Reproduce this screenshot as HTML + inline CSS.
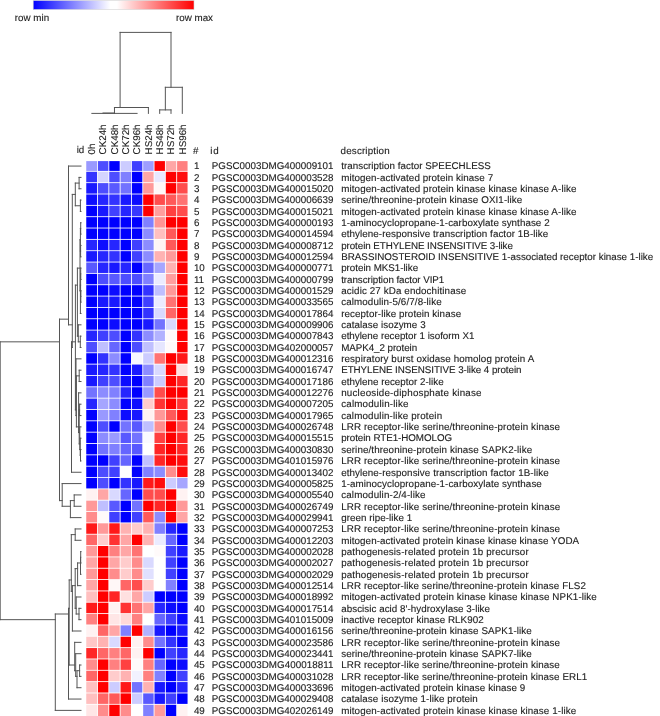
<!DOCTYPE html><html><head><meta charset="utf-8"><style>html,body{margin:0;padding:0;background:#fff;}svg{display:block;will-change:transform;}text{font-family:"Liberation Sans", sans-serif;text-rendering:geometricPrecision;stroke:#222;stroke-width:0.12px;}</style></head><body>
<svg width="660" height="716" viewBox="0 0 660 716">
<rect width="660" height="716" fill="#fff"/>
<defs><linearGradient id="cb" x1="0" x2="1" y1="0" y2="0"><stop offset="0" stop-color="#0000ff"/><stop offset="0.48" stop-color="#ffffff"/><stop offset="0.52" stop-color="#ffffff"/><stop offset="1" stop-color="#ff0000"/></linearGradient></defs>
<rect x="33.2" y="0.5" width="160.8" height="9.0" fill="url(#cb)" stroke="#d4d4d4" stroke-width="0.6"/>
<text x="14.8" y="20.9" font-size="9.8" fill="#222">row min</text>
<text x="176.0" y="20.9" font-size="9.8" fill="#222">row max</text>
<g><rect x="86.25" y="161.10" width="10.83" height="9.81" fill="#9999ff"/><rect x="97.94" y="161.10" width="10.45" height="9.81" fill="#4d4dff"/><rect x="109.25" y="161.10" width="10.45" height="9.81" fill="#0000ff"/><rect x="120.56" y="161.10" width="10.45" height="9.81" fill="#ccccff"/><rect x="131.87" y="161.10" width="10.45" height="9.81" fill="#4040ff"/><rect x="143.18" y="161.10" width="10.45" height="9.81" fill="#9e9eff"/><rect x="154.49" y="161.10" width="10.45" height="9.81" fill="#ff0000"/><rect x="165.80" y="161.10" width="10.45" height="9.81" fill="#ffa6a6"/><rect x="177.11" y="161.10" width="10.45" height="9.81" fill="#ff8080"/><rect x="86.25" y="171.77" width="10.83" height="10.48" fill="#3333ff"/><rect x="97.94" y="171.77" width="10.45" height="10.48" fill="#d4d4ff"/><rect x="109.25" y="171.77" width="10.45" height="10.48" fill="#4d4dff"/><rect x="120.56" y="171.77" width="10.45" height="10.48" fill="#8080ff"/><rect x="131.87" y="171.77" width="10.45" height="10.48" fill="#0000ff"/><rect x="143.18" y="171.77" width="10.45" height="10.48" fill="#ffa6a6"/><rect x="154.49" y="171.77" width="10.45" height="10.48" fill="#e8e8ff"/><rect x="165.80" y="171.77" width="10.45" height="10.48" fill="#ff0000"/><rect x="177.11" y="171.77" width="10.45" height="10.48" fill="#ff0d0d"/><rect x="86.25" y="183.11" width="10.83" height="10.48" fill="#1919ff"/><rect x="97.94" y="183.11" width="10.45" height="10.48" fill="#4d4dff"/><rect x="109.25" y="183.11" width="10.45" height="10.48" fill="#5959ff"/><rect x="120.56" y="183.11" width="10.45" height="10.48" fill="#7373ff"/><rect x="131.87" y="183.11" width="10.45" height="10.48" fill="#0000ff"/><rect x="143.18" y="183.11" width="10.45" height="10.48" fill="#ff9999"/><rect x="154.49" y="183.11" width="10.45" height="10.48" fill="#fff7f7"/><rect x="165.80" y="183.11" width="10.45" height="10.48" fill="#ff0000"/><rect x="177.11" y="183.11" width="10.45" height="10.48" fill="#ff4d4d"/><rect x="86.25" y="194.45" width="10.83" height="10.48" fill="#0d0dff"/><rect x="97.94" y="194.45" width="10.45" height="10.48" fill="#2626ff"/><rect x="109.25" y="194.45" width="10.45" height="10.48" fill="#3333ff"/><rect x="120.56" y="194.45" width="10.45" height="10.48" fill="#1919ff"/><rect x="131.87" y="194.45" width="10.45" height="10.48" fill="#0d0dff"/><rect x="143.18" y="194.45" width="10.45" height="10.48" fill="#ff0000"/><rect x="154.49" y="194.45" width="10.45" height="10.48" fill="#ff4d4d"/><rect x="165.80" y="194.45" width="10.45" height="10.48" fill="#ff5959"/><rect x="177.11" y="194.45" width="10.45" height="10.48" fill="#ff7373"/><rect x="86.25" y="205.79" width="10.83" height="10.48" fill="#0000ff"/><rect x="97.94" y="205.79" width="10.45" height="10.48" fill="#1919ff"/><rect x="109.25" y="205.79" width="10.45" height="10.48" fill="#4040ff"/><rect x="120.56" y="205.79" width="10.45" height="10.48" fill="#2626ff"/><rect x="131.87" y="205.79" width="10.45" height="10.48" fill="#3838ff"/><rect x="143.18" y="205.79" width="10.45" height="10.48" fill="#ff0000"/><rect x="154.49" y="205.79" width="10.45" height="10.48" fill="#ff9e9e"/><rect x="165.80" y="205.79" width="10.45" height="10.48" fill="#ff4040"/><rect x="177.11" y="205.79" width="10.45" height="10.48" fill="#ff4d4d"/><rect x="86.25" y="217.13" width="10.83" height="10.48" fill="#0000ff"/><rect x="97.94" y="217.13" width="10.45" height="10.48" fill="#0000ff"/><rect x="109.25" y="217.13" width="10.45" height="10.48" fill="#0000ff"/><rect x="120.56" y="217.13" width="10.45" height="10.48" fill="#0000ff"/><rect x="131.87" y="217.13" width="10.45" height="10.48" fill="#0000ff"/><rect x="143.18" y="217.13" width="10.45" height="10.48" fill="#8080ff"/><rect x="154.49" y="217.13" width="10.45" height="10.48" fill="#ff9494"/><rect x="165.80" y="217.13" width="10.45" height="10.48" fill="#ff0000"/><rect x="177.11" y="217.13" width="10.45" height="10.48" fill="#ff0000"/><rect x="86.25" y="228.47" width="10.83" height="10.48" fill="#0000ff"/><rect x="97.94" y="228.47" width="10.45" height="10.48" fill="#0000ff"/><rect x="109.25" y="228.47" width="10.45" height="10.48" fill="#0000ff"/><rect x="120.56" y="228.47" width="10.45" height="10.48" fill="#0000ff"/><rect x="131.87" y="228.47" width="10.45" height="10.48" fill="#0000ff"/><rect x="143.18" y="228.47" width="10.45" height="10.48" fill="#8c8cff"/><rect x="154.49" y="228.47" width="10.45" height="10.48" fill="#ffbfbf"/><rect x="165.80" y="228.47" width="10.45" height="10.48" fill="#ff5959"/><rect x="177.11" y="228.47" width="10.45" height="10.48" fill="#ff0000"/><rect x="86.25" y="239.81" width="10.83" height="10.48" fill="#2626ff"/><rect x="97.94" y="239.81" width="10.45" height="10.48" fill="#0d0dff"/><rect x="109.25" y="239.81" width="10.45" height="10.48" fill="#2626ff"/><rect x="120.56" y="239.81" width="10.45" height="10.48" fill="#0000ff"/><rect x="131.87" y="239.81" width="10.45" height="10.48" fill="#4040ff"/><rect x="143.18" y="239.81" width="10.45" height="10.48" fill="#8c8cff"/><rect x="154.49" y="239.81" width="10.45" height="10.48" fill="#fff5f5"/><rect x="165.80" y="239.81" width="10.45" height="10.48" fill="#ff5959"/><rect x="177.11" y="239.81" width="10.45" height="10.48" fill="#ff0000"/><rect x="86.25" y="251.15" width="10.83" height="10.48" fill="#1919ff"/><rect x="97.94" y="251.15" width="10.45" height="10.48" fill="#2626ff"/><rect x="109.25" y="251.15" width="10.45" height="10.48" fill="#3333ff"/><rect x="120.56" y="251.15" width="10.45" height="10.48" fill="#0000ff"/><rect x="131.87" y="251.15" width="10.45" height="10.48" fill="#4040ff"/><rect x="143.18" y="251.15" width="10.45" height="10.48" fill="#8c8cff"/><rect x="154.49" y="251.15" width="10.45" height="10.48" fill="#ffb2b2"/><rect x="165.80" y="251.15" width="10.45" height="10.48" fill="#ff9999"/><rect x="177.11" y="251.15" width="10.45" height="10.48" fill="#ff0000"/><rect x="86.25" y="262.49" width="10.83" height="10.48" fill="#5959ff"/><rect x="97.94" y="262.49" width="10.45" height="10.48" fill="#2626ff"/><rect x="109.25" y="262.49" width="10.45" height="10.48" fill="#1919ff"/><rect x="120.56" y="262.49" width="10.45" height="10.48" fill="#2626ff"/><rect x="131.87" y="262.49" width="10.45" height="10.48" fill="#0000ff"/><rect x="143.18" y="262.49" width="10.45" height="10.48" fill="#6666ff"/><rect x="154.49" y="262.49" width="10.45" height="10.48" fill="#a6a6ff"/><rect x="165.80" y="262.49" width="10.45" height="10.48" fill="#ffb2b2"/><rect x="177.11" y="262.49" width="10.45" height="10.48" fill="#ff0000"/><rect x="86.25" y="273.83" width="10.83" height="10.48" fill="#0000ff"/><rect x="97.94" y="273.83" width="10.45" height="10.48" fill="#4d4dff"/><rect x="109.25" y="273.83" width="10.45" height="10.48" fill="#5959ff"/><rect x="120.56" y="273.83" width="10.45" height="10.48" fill="#4d4dff"/><rect x="131.87" y="273.83" width="10.45" height="10.48" fill="#4d4dff"/><rect x="143.18" y="273.83" width="10.45" height="10.48" fill="#8080ff"/><rect x="154.49" y="273.83" width="10.45" height="10.48" fill="#ebebff"/><rect x="165.80" y="273.83" width="10.45" height="10.48" fill="#ff9e9e"/><rect x="177.11" y="273.83" width="10.45" height="10.48" fill="#ff0000"/><rect x="86.25" y="285.17" width="10.83" height="10.48" fill="#0000ff"/><rect x="97.94" y="285.17" width="10.45" height="10.48" fill="#0000ff"/><rect x="109.25" y="285.17" width="10.45" height="10.48" fill="#0d0dff"/><rect x="120.56" y="285.17" width="10.45" height="10.48" fill="#0000ff"/><rect x="131.87" y="285.17" width="10.45" height="10.48" fill="#0000ff"/><rect x="143.18" y="285.17" width="10.45" height="10.48" fill="#3333ff"/><rect x="154.49" y="285.17" width="10.45" height="10.48" fill="#bfbfff"/><rect x="165.80" y="285.17" width="10.45" height="10.48" fill="#ff9999"/><rect x="177.11" y="285.17" width="10.45" height="10.48" fill="#ff0000"/><rect x="86.25" y="296.51" width="10.83" height="10.48" fill="#0000ff"/><rect x="97.94" y="296.51" width="10.45" height="10.48" fill="#1919ff"/><rect x="109.25" y="296.51" width="10.45" height="10.48" fill="#1919ff"/><rect x="120.56" y="296.51" width="10.45" height="10.48" fill="#0000ff"/><rect x="131.87" y="296.51" width="10.45" height="10.48" fill="#0000ff"/><rect x="143.18" y="296.51" width="10.45" height="10.48" fill="#4040ff"/><rect x="154.49" y="296.51" width="10.45" height="10.48" fill="#ebebff"/><rect x="165.80" y="296.51" width="10.45" height="10.48" fill="#ff7373"/><rect x="177.11" y="296.51" width="10.45" height="10.48" fill="#ff0000"/><rect x="86.25" y="307.85" width="10.83" height="10.48" fill="#0000ff"/><rect x="97.94" y="307.85" width="10.45" height="10.48" fill="#0000ff"/><rect x="109.25" y="307.85" width="10.45" height="10.48" fill="#0000ff"/><rect x="120.56" y="307.85" width="10.45" height="10.48" fill="#0000ff"/><rect x="131.87" y="307.85" width="10.45" height="10.48" fill="#0000ff"/><rect x="143.18" y="307.85" width="10.45" height="10.48" fill="#3333ff"/><rect x="154.49" y="307.85" width="10.45" height="10.48" fill="#d9d9ff"/><rect x="165.80" y="307.85" width="10.45" height="10.48" fill="#ff6666"/><rect x="177.11" y="307.85" width="10.45" height="10.48" fill="#ff0000"/><rect x="86.25" y="319.19" width="10.83" height="10.48" fill="#0000ff"/><rect x="97.94" y="319.19" width="10.45" height="10.48" fill="#0000ff"/><rect x="109.25" y="319.19" width="10.45" height="10.48" fill="#0d0dff"/><rect x="120.56" y="319.19" width="10.45" height="10.48" fill="#0000ff"/><rect x="131.87" y="319.19" width="10.45" height="10.48" fill="#0000ff"/><rect x="143.18" y="319.19" width="10.45" height="10.48" fill="#1919ff"/><rect x="154.49" y="319.19" width="10.45" height="10.48" fill="#7373ff"/><rect x="165.80" y="319.19" width="10.45" height="10.48" fill="#d9d9ff"/><rect x="177.11" y="319.19" width="10.45" height="10.48" fill="#ff0000"/><rect x="86.25" y="330.53" width="10.83" height="10.48" fill="#2626ff"/><rect x="97.94" y="330.53" width="10.45" height="10.48" fill="#4040ff"/><rect x="109.25" y="330.53" width="10.45" height="10.48" fill="#4d4dff"/><rect x="120.56" y="330.53" width="10.45" height="10.48" fill="#0000ff"/><rect x="131.87" y="330.53" width="10.45" height="10.48" fill="#3333ff"/><rect x="143.18" y="330.53" width="10.45" height="10.48" fill="#8c8cff"/><rect x="154.49" y="330.53" width="10.45" height="10.48" fill="#b2b2ff"/><rect x="165.80" y="330.53" width="10.45" height="10.48" fill="#fffafa"/><rect x="177.11" y="330.53" width="10.45" height="10.48" fill="#ff0000"/><rect x="86.25" y="341.87" width="10.83" height="10.48" fill="#4d4dff"/><rect x="97.94" y="341.87" width="10.45" height="10.48" fill="#bfbfff"/><rect x="109.25" y="341.87" width="10.45" height="10.48" fill="#6666ff"/><rect x="120.56" y="341.87" width="10.45" height="10.48" fill="#0000ff"/><rect x="131.87" y="341.87" width="10.45" height="10.48" fill="#4d4dff"/><rect x="143.18" y="341.87" width="10.45" height="10.48" fill="#bfbfff"/><rect x="154.49" y="341.87" width="10.45" height="10.48" fill="#e6e6ff"/><rect x="165.80" y="341.87" width="10.45" height="10.48" fill="#fffafa"/><rect x="177.11" y="341.87" width="10.45" height="10.48" fill="#ff0000"/><rect x="86.25" y="353.21" width="10.83" height="10.48" fill="#0000ff"/><rect x="97.94" y="353.21" width="10.45" height="10.48" fill="#3333ff"/><rect x="109.25" y="353.21" width="10.45" height="10.48" fill="#8c8cff"/><rect x="120.56" y="353.21" width="10.45" height="10.48" fill="#0000ff"/><rect x="131.87" y="353.21" width="10.45" height="10.48" fill="#f7f7ff"/><rect x="143.18" y="353.21" width="10.45" height="10.48" fill="#ccccff"/><rect x="154.49" y="353.21" width="10.45" height="10.48" fill="#ff7373"/><rect x="165.80" y="353.21" width="10.45" height="10.48" fill="#ff0000"/><rect x="177.11" y="353.21" width="10.45" height="10.48" fill="#ff1919"/><rect x="86.25" y="364.55" width="10.83" height="10.48" fill="#1919ff"/><rect x="97.94" y="364.55" width="10.45" height="10.48" fill="#2626ff"/><rect x="109.25" y="364.55" width="10.45" height="10.48" fill="#3333ff"/><rect x="120.56" y="364.55" width="10.45" height="10.48" fill="#0000ff"/><rect x="131.87" y="364.55" width="10.45" height="10.48" fill="#1919ff"/><rect x="143.18" y="364.55" width="10.45" height="10.48" fill="#8c8cff"/><rect x="154.49" y="364.55" width="10.45" height="10.48" fill="#d9d9ff"/><rect x="165.80" y="364.55" width="10.45" height="10.48" fill="#ff0000"/><rect x="177.11" y="364.55" width="10.45" height="10.48" fill="#ffe0e0"/><rect x="86.25" y="375.89" width="10.83" height="10.48" fill="#1919ff"/><rect x="97.94" y="375.89" width="10.45" height="10.48" fill="#4040ff"/><rect x="109.25" y="375.89" width="10.45" height="10.48" fill="#4d4dff"/><rect x="120.56" y="375.89" width="10.45" height="10.48" fill="#0d0dff"/><rect x="131.87" y="375.89" width="10.45" height="10.48" fill="#0000ff"/><rect x="143.18" y="375.89" width="10.45" height="10.48" fill="#8080ff"/><rect x="154.49" y="375.89" width="10.45" height="10.48" fill="#ccccff"/><rect x="165.80" y="375.89" width="10.45" height="10.48" fill="#ff0000"/><rect x="177.11" y="375.89" width="10.45" height="10.48" fill="#ff2626"/><rect x="86.25" y="387.23" width="10.83" height="10.48" fill="#7373ff"/><rect x="97.94" y="387.23" width="10.45" height="10.48" fill="#8c8cff"/><rect x="109.25" y="387.23" width="10.45" height="10.48" fill="#8080ff"/><rect x="120.56" y="387.23" width="10.45" height="10.48" fill="#2626ff"/><rect x="131.87" y="387.23" width="10.45" height="10.48" fill="#0000ff"/><rect x="143.18" y="387.23" width="10.45" height="10.48" fill="#9999ff"/><rect x="154.49" y="387.23" width="10.45" height="10.48" fill="#ff4d4d"/><rect x="165.80" y="387.23" width="10.45" height="10.48" fill="#ff0000"/><rect x="177.11" y="387.23" width="10.45" height="10.48" fill="#ff0000"/><rect x="86.25" y="398.57" width="10.83" height="10.48" fill="#2626ff"/><rect x="97.94" y="398.57" width="10.45" height="10.48" fill="#a6a6ff"/><rect x="109.25" y="398.57" width="10.45" height="10.48" fill="#8c8cff"/><rect x="120.56" y="398.57" width="10.45" height="10.48" fill="#0000ff"/><rect x="131.87" y="398.57" width="10.45" height="10.48" fill="#0d0dff"/><rect x="143.18" y="398.57" width="10.45" height="10.48" fill="#ffcccc"/><rect x="154.49" y="398.57" width="10.45" height="10.48" fill="#ff3333"/><rect x="165.80" y="398.57" width="10.45" height="10.48" fill="#ff0000"/><rect x="177.11" y="398.57" width="10.45" height="10.48" fill="#ff3333"/><rect x="86.25" y="409.91" width="10.83" height="10.48" fill="#0000ff"/><rect x="97.94" y="409.91" width="10.45" height="10.48" fill="#9999ff"/><rect x="109.25" y="409.91" width="10.45" height="10.48" fill="#8080ff"/><rect x="120.56" y="409.91" width="10.45" height="10.48" fill="#0d0dff"/><rect x="131.87" y="409.91" width="10.45" height="10.48" fill="#1919ff"/><rect x="143.18" y="409.91" width="10.45" height="10.48" fill="#fff2f2"/><rect x="154.49" y="409.91" width="10.45" height="10.48" fill="#ff9999"/><rect x="165.80" y="409.91" width="10.45" height="10.48" fill="#ff5959"/><rect x="177.11" y="409.91" width="10.45" height="10.48" fill="#ff0d0d"/><rect x="86.25" y="421.25" width="10.83" height="10.48" fill="#0000ff"/><rect x="97.94" y="421.25" width="10.45" height="10.48" fill="#4d4dff"/><rect x="109.25" y="421.25" width="10.45" height="10.48" fill="#0000ff"/><rect x="120.56" y="421.25" width="10.45" height="10.48" fill="#7373ff"/><rect x="131.87" y="421.25" width="10.45" height="10.48" fill="#5959ff"/><rect x="143.18" y="421.25" width="10.45" height="10.48" fill="#bfbfff"/><rect x="154.49" y="421.25" width="10.45" height="10.48" fill="#ff8c8c"/><rect x="165.80" y="421.25" width="10.45" height="10.48" fill="#ff0000"/><rect x="177.11" y="421.25" width="10.45" height="10.48" fill="#ff4d4d"/><rect x="86.25" y="432.59" width="10.83" height="10.48" fill="#0000ff"/><rect x="97.94" y="432.59" width="10.45" height="10.48" fill="#8c8cff"/><rect x="109.25" y="432.59" width="10.45" height="10.48" fill="#9999ff"/><rect x="120.56" y="432.59" width="10.45" height="10.48" fill="#5959ff"/><rect x="131.87" y="432.59" width="10.45" height="10.48" fill="#7373ff"/><rect x="143.18" y="432.59" width="10.45" height="10.48" fill="#fafaff"/><rect x="154.49" y="432.59" width="10.45" height="10.48" fill="#ff4040"/><rect x="165.80" y="432.59" width="10.45" height="10.48" fill="#ff0000"/><rect x="177.11" y="432.59" width="10.45" height="10.48" fill="#ff2626"/><rect x="86.25" y="443.93" width="10.83" height="10.48" fill="#0000ff"/><rect x="97.94" y="443.93" width="10.45" height="10.48" fill="#7373ff"/><rect x="109.25" y="443.93" width="10.45" height="10.48" fill="#8080ff"/><rect x="120.56" y="443.93" width="10.45" height="10.48" fill="#6666ff"/><rect x="131.87" y="443.93" width="10.45" height="10.48" fill="#5959ff"/><rect x="143.18" y="443.93" width="10.45" height="10.48" fill="#ffffff"/><rect x="154.49" y="443.93" width="10.45" height="10.48" fill="#ff2626"/><rect x="165.80" y="443.93" width="10.45" height="10.48" fill="#ff0000"/><rect x="177.11" y="443.93" width="10.45" height="10.48" fill="#ff2626"/><rect x="86.25" y="455.27" width="10.83" height="10.48" fill="#0000ff"/><rect x="97.94" y="455.27" width="10.45" height="10.48" fill="#0000ff"/><rect x="109.25" y="455.27" width="10.45" height="10.48" fill="#4040ff"/><rect x="120.56" y="455.27" width="10.45" height="10.48" fill="#6666ff"/><rect x="131.87" y="455.27" width="10.45" height="10.48" fill="#0000ff"/><rect x="143.18" y="455.27" width="10.45" height="10.48" fill="#bfbfff"/><rect x="154.49" y="455.27" width="10.45" height="10.48" fill="#ff2626"/><rect x="165.80" y="455.27" width="10.45" height="10.48" fill="#ff0000"/><rect x="177.11" y="455.27" width="10.45" height="10.48" fill="#ff0d0d"/><rect x="86.25" y="466.61" width="10.83" height="10.48" fill="#0000ff"/><rect x="97.94" y="466.61" width="10.45" height="10.48" fill="#4d4dff"/><rect x="109.25" y="466.61" width="10.45" height="10.48" fill="#4040ff"/><rect x="120.56" y="466.61" width="10.45" height="10.48" fill="#ffffff"/><rect x="131.87" y="466.61" width="10.45" height="10.48" fill="#0000ff"/><rect x="143.18" y="466.61" width="10.45" height="10.48" fill="#8080ff"/><rect x="154.49" y="466.61" width="10.45" height="10.48" fill="#8c8cff"/><rect x="165.80" y="466.61" width="10.45" height="10.48" fill="#ff8c8c"/><rect x="177.11" y="466.61" width="10.45" height="10.48" fill="#ff0d0d"/><rect x="86.25" y="477.95" width="10.83" height="10.48" fill="#0000ff"/><rect x="97.94" y="477.95" width="10.45" height="10.48" fill="#4d4dff"/><rect x="109.25" y="477.95" width="10.45" height="10.48" fill="#0000ff"/><rect x="120.56" y="477.95" width="10.45" height="10.48" fill="#3333ff"/><rect x="131.87" y="477.95" width="10.45" height="10.48" fill="#1919ff"/><rect x="143.18" y="477.95" width="10.45" height="10.48" fill="#ff1919"/><rect x="154.49" y="477.95" width="10.45" height="10.48" fill="#ff0d0d"/><rect x="165.80" y="477.95" width="10.45" height="10.48" fill="#ccccff"/><rect x="177.11" y="477.95" width="10.45" height="10.48" fill="#a6a6ff"/><rect x="86.25" y="489.29" width="10.83" height="10.48" fill="#fff2f2"/><rect x="97.94" y="489.29" width="10.45" height="10.48" fill="#ffa6a6"/><rect x="109.25" y="489.29" width="10.45" height="10.48" fill="#d9d9ff"/><rect x="120.56" y="489.29" width="10.45" height="10.48" fill="#6666ff"/><rect x="131.87" y="489.29" width="10.45" height="10.48" fill="#0000ff"/><rect x="143.18" y="489.29" width="10.45" height="10.48" fill="#ff4d4d"/><rect x="154.49" y="489.29" width="10.45" height="10.48" fill="#ff4d4d"/><rect x="165.80" y="489.29" width="10.45" height="10.48" fill="#ff0000"/><rect x="177.11" y="489.29" width="10.45" height="10.48" fill="#fff2f2"/><rect x="86.25" y="500.63" width="10.83" height="10.48" fill="#ff9999"/><rect x="97.94" y="500.63" width="10.45" height="10.48" fill="#bfbfff"/><rect x="109.25" y="500.63" width="10.45" height="10.48" fill="#5959ff"/><rect x="120.56" y="500.63" width="10.45" height="10.48" fill="#0000ff"/><rect x="131.87" y="500.63" width="10.45" height="10.48" fill="#7373ff"/><rect x="143.18" y="500.63" width="10.45" height="10.48" fill="#ff0000"/><rect x="154.49" y="500.63" width="10.45" height="10.48" fill="#ff2626"/><rect x="165.80" y="500.63" width="10.45" height="10.48" fill="#ff0000"/><rect x="177.11" y="500.63" width="10.45" height="10.48" fill="#ff9999"/><rect x="86.25" y="511.97" width="10.83" height="10.48" fill="#ff8c8c"/><rect x="97.94" y="511.97" width="10.45" height="10.48" fill="#fffafa"/><rect x="109.25" y="511.97" width="10.45" height="10.48" fill="#4040ff"/><rect x="120.56" y="511.97" width="10.45" height="10.48" fill="#0000ff"/><rect x="131.87" y="511.97" width="10.45" height="10.48" fill="#4040ff"/><rect x="143.18" y="511.97" width="10.45" height="10.48" fill="#ff5959"/><rect x="154.49" y="511.97" width="10.45" height="10.48" fill="#8c8cff"/><rect x="165.80" y="511.97" width="10.45" height="10.48" fill="#ff0000"/><rect x="177.11" y="511.97" width="10.45" height="10.48" fill="#ffa6a6"/><rect x="86.25" y="523.31" width="10.83" height="10.48" fill="#ff1919"/><rect x="97.94" y="523.31" width="10.45" height="10.48" fill="#ff9999"/><rect x="109.25" y="523.31" width="10.45" height="10.48" fill="#ff1919"/><rect x="120.56" y="523.31" width="10.45" height="10.48" fill="#ffb2b2"/><rect x="131.87" y="523.31" width="10.45" height="10.48" fill="#ffcccc"/><rect x="143.18" y="523.31" width="10.45" height="10.48" fill="#ffb2b2"/><rect x="154.49" y="523.31" width="10.45" height="10.48" fill="#8080ff"/><rect x="165.80" y="523.31" width="10.45" height="10.48" fill="#2626ff"/><rect x="177.11" y="523.31" width="10.45" height="10.48" fill="#0000ff"/><rect x="86.25" y="534.65" width="10.83" height="10.48" fill="#ff6666"/><rect x="97.94" y="534.65" width="10.45" height="10.48" fill="#ffcccc"/><rect x="109.25" y="534.65" width="10.45" height="10.48" fill="#ff3333"/><rect x="120.56" y="534.65" width="10.45" height="10.48" fill="#ffa6a6"/><rect x="131.87" y="534.65" width="10.45" height="10.48" fill="#ff0000"/><rect x="143.18" y="534.65" width="10.45" height="10.48" fill="#ffb2b2"/><rect x="154.49" y="534.65" width="10.45" height="10.48" fill="#ebebff"/><rect x="165.80" y="534.65" width="10.45" height="10.48" fill="#6666ff"/><rect x="177.11" y="534.65" width="10.45" height="10.48" fill="#0000ff"/><rect x="86.25" y="545.99" width="10.83" height="10.48" fill="#ff9999"/><rect x="97.94" y="545.99" width="10.45" height="10.48" fill="#ff0000"/><rect x="109.25" y="545.99" width="10.45" height="10.48" fill="#ff8080"/><rect x="120.56" y="545.99" width="10.45" height="10.48" fill="#ffa6a6"/><rect x="131.87" y="545.99" width="10.45" height="10.48" fill="#ff7373"/><rect x="143.18" y="545.99" width="10.45" height="10.48" fill="#ffffff"/><rect x="154.49" y="545.99" width="10.45" height="10.48" fill="#fffafa"/><rect x="165.80" y="545.99" width="10.45" height="10.48" fill="#4040ff"/><rect x="177.11" y="545.99" width="10.45" height="10.48" fill="#1919ff"/><rect x="86.25" y="557.33" width="10.83" height="10.48" fill="#ffa6a6"/><rect x="97.94" y="557.33" width="10.45" height="10.48" fill="#ff0000"/><rect x="109.25" y="557.33" width="10.45" height="10.48" fill="#ffa6a6"/><rect x="120.56" y="557.33" width="10.45" height="10.48" fill="#ffcccc"/><rect x="131.87" y="557.33" width="10.45" height="10.48" fill="#ff8c8c"/><rect x="143.18" y="557.33" width="10.45" height="10.48" fill="#d9d9ff"/><rect x="154.49" y="557.33" width="10.45" height="10.48" fill="#ffffff"/><rect x="165.80" y="557.33" width="10.45" height="10.48" fill="#4040ff"/><rect x="177.11" y="557.33" width="10.45" height="10.48" fill="#0000ff"/><rect x="86.25" y="568.67" width="10.83" height="10.48" fill="#ff9999"/><rect x="97.94" y="568.67" width="10.45" height="10.48" fill="#ff0000"/><rect x="109.25" y="568.67" width="10.45" height="10.48" fill="#ff8c8c"/><rect x="120.56" y="568.67" width="10.45" height="10.48" fill="#ffcccc"/><rect x="131.87" y="568.67" width="10.45" height="10.48" fill="#ff8c8c"/><rect x="143.18" y="568.67" width="10.45" height="10.48" fill="#e0e0ff"/><rect x="154.49" y="568.67" width="10.45" height="10.48" fill="#ffffff"/><rect x="165.80" y="568.67" width="10.45" height="10.48" fill="#4040ff"/><rect x="177.11" y="568.67" width="10.45" height="10.48" fill="#0000ff"/><rect x="86.25" y="580.01" width="10.83" height="10.48" fill="#ffa6a6"/><rect x="97.94" y="580.01" width="10.45" height="10.48" fill="#ff0000"/><rect x="109.25" y="580.01" width="10.45" height="10.48" fill="#fff7f7"/><rect x="120.56" y="580.01" width="10.45" height="10.48" fill="#ff6666"/><rect x="131.87" y="580.01" width="10.45" height="10.48" fill="#ff4d4d"/><rect x="143.18" y="580.01" width="10.45" height="10.48" fill="#ffcccc"/><rect x="154.49" y="580.01" width="10.45" height="10.48" fill="#ffffff"/><rect x="165.80" y="580.01" width="10.45" height="10.48" fill="#8080ff"/><rect x="177.11" y="580.01" width="10.45" height="10.48" fill="#0000ff"/><rect x="86.25" y="591.35" width="10.83" height="10.48" fill="#ffbfbf"/><rect x="97.94" y="591.35" width="10.45" height="10.48" fill="#ff0000"/><rect x="109.25" y="591.35" width="10.45" height="10.48" fill="#ff2626"/><rect x="120.56" y="591.35" width="10.45" height="10.48" fill="#ffe0e0"/><rect x="131.87" y="591.35" width="10.45" height="10.48" fill="#ffa6a6"/><rect x="143.18" y="591.35" width="10.45" height="10.48" fill="#ccccff"/><rect x="154.49" y="591.35" width="10.45" height="10.48" fill="#0000ff"/><rect x="165.80" y="591.35" width="10.45" height="10.48" fill="#0000ff"/><rect x="177.11" y="591.35" width="10.45" height="10.48" fill="#0000ff"/><rect x="86.25" y="602.69" width="10.83" height="10.48" fill="#ff1919"/><rect x="97.94" y="602.69" width="10.45" height="10.48" fill="#ff0000"/><rect x="109.25" y="602.69" width="10.45" height="10.48" fill="#fff2f2"/><rect x="120.56" y="602.69" width="10.45" height="10.48" fill="#ff3333"/><rect x="131.87" y="602.69" width="10.45" height="10.48" fill="#ff7373"/><rect x="143.18" y="602.69" width="10.45" height="10.48" fill="#ffa6a6"/><rect x="154.49" y="602.69" width="10.45" height="10.48" fill="#2626ff"/><rect x="165.80" y="602.69" width="10.45" height="10.48" fill="#0d0dff"/><rect x="177.11" y="602.69" width="10.45" height="10.48" fill="#0000ff"/><rect x="86.25" y="614.03" width="10.83" height="10.48" fill="#ff8080"/><rect x="97.94" y="614.03" width="10.45" height="10.48" fill="#ff0000"/><rect x="109.25" y="614.03" width="10.45" height="10.48" fill="#ffe6e6"/><rect x="120.56" y="614.03" width="10.45" height="10.48" fill="#ffd9d9"/><rect x="131.87" y="614.03" width="10.45" height="10.48" fill="#ff8080"/><rect x="143.18" y="614.03" width="10.45" height="10.48" fill="#ffffff"/><rect x="154.49" y="614.03" width="10.45" height="10.48" fill="#6666ff"/><rect x="165.80" y="614.03" width="10.45" height="10.48" fill="#4040ff"/><rect x="177.11" y="614.03" width="10.45" height="10.48" fill="#0d0dff"/><rect x="86.25" y="625.37" width="10.83" height="10.48" fill="#fff2f2"/><rect x="97.94" y="625.37" width="10.45" height="10.48" fill="#ff6666"/><rect x="109.25" y="625.37" width="10.45" height="10.48" fill="#ffa6a6"/><rect x="120.56" y="625.37" width="10.45" height="10.48" fill="#8080ff"/><rect x="131.87" y="625.37" width="10.45" height="10.48" fill="#ff0000"/><rect x="143.18" y="625.37" width="10.45" height="10.48" fill="#b2b2ff"/><rect x="154.49" y="625.37" width="10.45" height="10.48" fill="#1919ff"/><rect x="165.80" y="625.37" width="10.45" height="10.48" fill="#0000ff"/><rect x="177.11" y="625.37" width="10.45" height="10.48" fill="#1919ff"/><rect x="86.25" y="636.71" width="10.83" height="10.48" fill="#ffc7c7"/><rect x="97.94" y="636.71" width="10.45" height="10.48" fill="#ffb2b2"/><rect x="109.25" y="636.71" width="10.45" height="10.48" fill="#d9d9ff"/><rect x="120.56" y="636.71" width="10.45" height="10.48" fill="#ff0000"/><rect x="131.87" y="636.71" width="10.45" height="10.48" fill="#fff2f2"/><rect x="143.18" y="636.71" width="10.45" height="10.48" fill="#ff8c8c"/><rect x="154.49" y="636.71" width="10.45" height="10.48" fill="#7373ff"/><rect x="165.80" y="636.71" width="10.45" height="10.48" fill="#3333ff"/><rect x="177.11" y="636.71" width="10.45" height="10.48" fill="#0000ff"/><rect x="86.25" y="648.05" width="10.83" height="10.48" fill="#ff2626"/><rect x="97.94" y="648.05" width="10.45" height="10.48" fill="#ff6666"/><rect x="109.25" y="648.05" width="10.45" height="10.48" fill="#ff8080"/><rect x="120.56" y="648.05" width="10.45" height="10.48" fill="#ff6666"/><rect x="131.87" y="648.05" width="10.45" height="10.48" fill="#fff2f2"/><rect x="143.18" y="648.05" width="10.45" height="10.48" fill="#ff0000"/><rect x="154.49" y="648.05" width="10.45" height="10.48" fill="#0000ff"/><rect x="165.80" y="648.05" width="10.45" height="10.48" fill="#4040ff"/><rect x="177.11" y="648.05" width="10.45" height="10.48" fill="#2626ff"/><rect x="86.25" y="659.39" width="10.83" height="10.48" fill="#ff8c8c"/><rect x="97.94" y="659.39" width="10.45" height="10.48" fill="#ff0000"/><rect x="109.25" y="659.39" width="10.45" height="10.48" fill="#ff8080"/><rect x="120.56" y="659.39" width="10.45" height="10.48" fill="#ff4040"/><rect x="131.87" y="659.39" width="10.45" height="10.48" fill="#fffafa"/><rect x="143.18" y="659.39" width="10.45" height="10.48" fill="#ff8080"/><rect x="154.49" y="659.39" width="10.45" height="10.48" fill="#6666ff"/><rect x="165.80" y="659.39" width="10.45" height="10.48" fill="#0000ff"/><rect x="177.11" y="659.39" width="10.45" height="10.48" fill="#0d0dff"/><rect x="86.25" y="670.73" width="10.83" height="10.48" fill="#ff6666"/><rect x="97.94" y="670.73" width="10.45" height="10.48" fill="#ff0000"/><rect x="109.25" y="670.73" width="10.45" height="10.48" fill="#ffcccc"/><rect x="120.56" y="670.73" width="10.45" height="10.48" fill="#ffb2b2"/><rect x="131.87" y="670.73" width="10.45" height="10.48" fill="#f2f2ff"/><rect x="143.18" y="670.73" width="10.45" height="10.48" fill="#ff8080"/><rect x="154.49" y="670.73" width="10.45" height="10.48" fill="#8080ff"/><rect x="165.80" y="670.73" width="10.45" height="10.48" fill="#0000ff"/><rect x="177.11" y="670.73" width="10.45" height="10.48" fill="#4040ff"/><rect x="86.25" y="682.07" width="10.83" height="10.48" fill="#ffbfbf"/><rect x="97.94" y="682.07" width="10.45" height="10.48" fill="#ff0000"/><rect x="109.25" y="682.07" width="10.45" height="10.48" fill="#ccccff"/><rect x="120.56" y="682.07" width="10.45" height="10.48" fill="#ff1919"/><rect x="131.87" y="682.07" width="10.45" height="10.48" fill="#7373ff"/><rect x="143.18" y="682.07" width="10.45" height="10.48" fill="#ffb2b2"/><rect x="154.49" y="682.07" width="10.45" height="10.48" fill="#1919ff"/><rect x="165.80" y="682.07" width="10.45" height="10.48" fill="#0000ff"/><rect x="177.11" y="682.07" width="10.45" height="10.48" fill="#2626ff"/><rect x="86.25" y="693.41" width="10.83" height="10.48" fill="#ffbfbf"/><rect x="97.94" y="693.41" width="10.45" height="10.48" fill="#ff6666"/><rect x="109.25" y="693.41" width="10.45" height="10.48" fill="#ff5959"/><rect x="120.56" y="693.41" width="10.45" height="10.48" fill="#ff0000"/><rect x="131.87" y="693.41" width="10.45" height="10.48" fill="#ccccff"/><rect x="143.18" y="693.41" width="10.45" height="10.48" fill="#5959ff"/><rect x="154.49" y="693.41" width="10.45" height="10.48" fill="#1919ff"/><rect x="165.80" y="693.41" width="10.45" height="10.48" fill="#4040ff"/><rect x="177.11" y="693.41" width="10.45" height="10.48" fill="#0000ff"/><rect x="86.25" y="704.75" width="10.83" height="11.25" fill="#ffe6e6"/><rect x="97.94" y="704.75" width="10.45" height="11.25" fill="#ff8c8c"/><rect x="109.25" y="704.75" width="10.45" height="11.25" fill="#ff0000"/><rect x="120.56" y="704.75" width="10.45" height="11.25" fill="#ff8c8c"/><rect x="131.87" y="704.75" width="10.45" height="11.25" fill="#ffffff"/><rect x="143.18" y="704.75" width="10.45" height="11.25" fill="#8080ff"/><rect x="154.49" y="704.75" width="10.45" height="11.25" fill="#ff9999"/><rect x="165.80" y="704.75" width="10.45" height="11.25" fill="#0000ff"/><rect x="177.11" y="704.75" width="10.45" height="11.25" fill="#fff2f2"/></g>
<text transform="translate(95.06,154.4) rotate(-90)" font-size="9.8" fill="#222">0h</text>
<text transform="translate(106.37,154.4) rotate(-90)" font-size="9.8" fill="#222">CK24h</text>
<text transform="translate(117.68,154.4) rotate(-90)" font-size="9.8" fill="#222">CK48h</text>
<text transform="translate(128.98,154.4) rotate(-90)" font-size="9.8" fill="#222">CK72h</text>
<text transform="translate(140.29,154.4) rotate(-90)" font-size="9.8" fill="#222">CK96h</text>
<text transform="translate(151.60,154.4) rotate(-90)" font-size="9.8" fill="#222">HS24h</text>
<text transform="translate(162.91,154.4) rotate(-90)" font-size="9.8" fill="#222">HS48h</text>
<text transform="translate(174.22,154.4) rotate(-90)" font-size="9.8" fill="#222">HS72h</text>
<text transform="translate(185.53,154.4) rotate(-90)" font-size="9.8" fill="#222">HS96h</text>
<text x="76.7" y="152.9" font-size="9.8" fill="#222">id</text>
<text x="193.1" y="154.4" font-size="9.8" fill="#222">#</text>
<text x="210.2" y="154.4" font-size="9.8" fill="#222" textLength="8.6" lengthAdjust="spacing">id</text>
<text x="340.6" y="154.4" font-size="9.8" fill="#222" textLength="49.0" lengthAdjust="spacing">description</text>
<text x="193.9" y="169.32" font-size="9.8" fill="#222">1</text>
<text x="211.70" y="169.32" font-size="9.8" fill="#222" textLength="121.80" lengthAdjust="spacing">PGSC0003DMG400009101</text>
<text x="341.2" y="169.32" font-size="9.8" fill="#222" textLength="149.70" lengthAdjust="spacing">transcription factor SPEECHLESS</text>
<text x="193.9" y="180.66" font-size="9.8" fill="#222">2</text>
<text x="211.70" y="180.66" font-size="9.8" fill="#222" textLength="121.80" lengthAdjust="spacing">PGSC0003DMG400003528</text>
<text x="341.2" y="180.66" font-size="9.8" fill="#222" textLength="151.90" lengthAdjust="spacing">mitogen-activated protein kinase 7</text>
<text x="193.9" y="192.00" font-size="9.8" fill="#222">3</text>
<text x="211.70" y="192.00" font-size="9.8" fill="#222" textLength="121.80" lengthAdjust="spacing">PGSC0003DMG400015020</text>
<text x="341.2" y="192.00" font-size="9.8" fill="#222" textLength="235.20" lengthAdjust="spacing">mitogen-activated protein kinase kinase kinase A-like</text>
<text x="193.9" y="203.34" font-size="9.8" fill="#222">4</text>
<text x="211.70" y="203.34" font-size="9.8" fill="#222" textLength="121.80" lengthAdjust="spacing">PGSC0003DMG400006639</text>
<text x="341.2" y="203.34" font-size="9.8" fill="#222" textLength="181.00" lengthAdjust="spacing">serine/threonine-protein kinase OXI1-like</text>
<text x="193.9" y="214.68" font-size="9.8" fill="#222">5</text>
<text x="211.70" y="214.68" font-size="9.8" fill="#222" textLength="121.80" lengthAdjust="spacing">PGSC0003DMG400015021</text>
<text x="341.2" y="214.68" font-size="9.8" fill="#222" textLength="235.20" lengthAdjust="spacing">mitogen-activated protein kinase kinase kinase A-like</text>
<text x="193.9" y="226.02" font-size="9.8" fill="#222">6</text>
<text x="211.70" y="226.02" font-size="9.8" fill="#222" textLength="121.80" lengthAdjust="spacing">PGSC0003DMG400000193</text>
<text x="341.2" y="226.02" font-size="9.8" fill="#222" textLength="208.40" lengthAdjust="spacing">1-aminocyclopropane-1-carboxylate synthase 2</text>
<text x="193.9" y="237.36" font-size="9.8" fill="#222">7</text>
<text x="211.70" y="237.36" font-size="9.8" fill="#222" textLength="121.80" lengthAdjust="spacing">PGSC0003DMG400014594</text>
<text x="341.2" y="237.36" font-size="9.8" fill="#222" textLength="207.00" lengthAdjust="spacing">ethylene-responsive transcription factor 1B-like</text>
<text x="193.9" y="248.70" font-size="9.8" fill="#222">8</text>
<text x="211.70" y="248.70" font-size="9.8" fill="#222" textLength="121.80" lengthAdjust="spacing">PGSC0003DMG400008712</text>
<text x="341.2" y="248.70" font-size="9.8" fill="#222" textLength="171.70" lengthAdjust="spacing">protein ETHYLENE INSENSITIVE 3-like</text>
<text x="193.9" y="260.04" font-size="9.8" fill="#222">9</text>
<text x="211.70" y="260.04" font-size="9.8" fill="#222" textLength="121.80" lengthAdjust="spacing">PGSC0003DMG400012594</text>
<text x="341.2" y="260.04" font-size="9.8" fill="#222" textLength="312.00" lengthAdjust="spacing">BRASSINOSTEROID INSENSITIVE 1-associated receptor kinase 1-like</text>
<text x="193.9" y="271.38" font-size="9.8" fill="#222">10</text>
<text x="211.70" y="271.38" font-size="9.8" fill="#222" textLength="121.80" lengthAdjust="spacing">PGSC0003DMG400000771</text>
<text x="341.2" y="271.38" font-size="9.8" fill="#222" textLength="76.90" lengthAdjust="spacing">protein MKS1-like</text>
<text x="193.9" y="282.72" font-size="9.8" fill="#222">11</text>
<text x="211.70" y="282.72" font-size="9.8" fill="#222" textLength="121.80" lengthAdjust="spacing">PGSC0003DMG400000799</text>
<text x="341.2" y="282.72" font-size="9.8" fill="#222" textLength="103.10" lengthAdjust="spacing">transcription factor VIP1</text>
<text x="193.9" y="294.06" font-size="9.8" fill="#222">12</text>
<text x="211.70" y="294.06" font-size="9.8" fill="#222" textLength="121.80" lengthAdjust="spacing">PGSC0003DMG400001529</text>
<text x="341.2" y="294.06" font-size="9.8" fill="#222" textLength="125.00" lengthAdjust="spacing">acidic 27 kDa endochitinase</text>
<text x="193.9" y="305.40" font-size="9.8" fill="#222">13</text>
<text x="211.70" y="305.40" font-size="9.8" fill="#222" textLength="121.80" lengthAdjust="spacing">PGSC0003DMG400033565</text>
<text x="341.2" y="305.40" font-size="9.8" fill="#222" textLength="100.40" lengthAdjust="spacing">calmodulin-5/6/7/8-like</text>
<text x="193.9" y="316.74" font-size="9.8" fill="#222">14</text>
<text x="211.70" y="316.74" font-size="9.8" fill="#222" textLength="121.80" lengthAdjust="spacing">PGSC0003DMG400017864</text>
<text x="341.2" y="316.74" font-size="9.8" fill="#222" textLength="119.90" lengthAdjust="spacing">receptor-like protein kinase</text>
<text x="193.9" y="328.08" font-size="9.8" fill="#222">15</text>
<text x="211.70" y="328.08" font-size="9.8" fill="#222" textLength="121.80" lengthAdjust="spacing">PGSC0003DMG400009906</text>
<text x="341.2" y="328.08" font-size="9.8" fill="#222" textLength="84.40" lengthAdjust="spacing">catalase isozyme 3</text>
<text x="193.9" y="339.42" font-size="9.8" fill="#222">16</text>
<text x="211.70" y="339.42" font-size="9.8" fill="#222" textLength="121.80" lengthAdjust="spacing">PGSC0003DMG400007843</text>
<text x="341.2" y="339.42" font-size="9.8" fill="#222" textLength="133.20" lengthAdjust="spacing">ethylene receptor 1 isoform X1</text>
<text x="193.9" y="350.76" font-size="9.8" fill="#222">17</text>
<text x="211.70" y="350.76" font-size="9.8" fill="#222" textLength="121.80" lengthAdjust="spacing">PGSC0003DMG402000057</text>
<text x="341.2" y="350.76" font-size="9.8" fill="#222" textLength="75.90" lengthAdjust="spacing">MAPK4_2 protein</text>
<text x="193.9" y="362.10" font-size="9.8" fill="#222">18</text>
<text x="211.70" y="362.10" font-size="9.8" fill="#222" textLength="121.80" lengthAdjust="spacing">PGSC0003DMG400012316</text>
<text x="341.2" y="362.10" font-size="9.8" fill="#222" textLength="193.00" lengthAdjust="spacing">respiratory burst oxidase homolog protein A</text>
<text x="193.9" y="373.44" font-size="9.8" fill="#222">19</text>
<text x="211.70" y="373.44" font-size="9.8" fill="#222" textLength="121.80" lengthAdjust="spacing">PGSC0003DMG400016747</text>
<text x="341.2" y="373.44" font-size="9.8" fill="#222" textLength="180.30" lengthAdjust="spacing">ETHYLENE INSENSITIVE 3-like 4 protein</text>
<text x="193.9" y="384.78" font-size="9.8" fill="#222">20</text>
<text x="211.70" y="384.78" font-size="9.8" fill="#222" textLength="121.80" lengthAdjust="spacing">PGSC0003DMG400017186</text>
<text x="341.2" y="384.78" font-size="9.8" fill="#222" textLength="102.40" lengthAdjust="spacing">ethylene receptor 2-like</text>
<text x="193.9" y="396.12" font-size="9.8" fill="#222">21</text>
<text x="211.70" y="396.12" font-size="9.8" fill="#222" textLength="121.80" lengthAdjust="spacing">PGSC0003DMG400012276</text>
<text x="341.2" y="396.12" font-size="9.8" fill="#222" textLength="140.30" lengthAdjust="spacing">nucleoside-diphosphate kinase</text>
<text x="193.9" y="407.46" font-size="9.8" fill="#222">22</text>
<text x="211.70" y="407.46" font-size="9.8" fill="#222" textLength="121.80" lengthAdjust="spacing">PGSC0003DMG400007205</text>
<text x="341.2" y="407.46" font-size="9.8" fill="#222" textLength="67.20" lengthAdjust="spacing">calmodulin-like</text>
<text x="193.9" y="418.80" font-size="9.8" fill="#222">23</text>
<text x="211.70" y="418.80" font-size="9.8" fill="#222" textLength="121.80" lengthAdjust="spacing">PGSC0003DMG400017965</text>
<text x="341.2" y="418.80" font-size="9.8" fill="#222" textLength="100.90" lengthAdjust="spacing">calmodulin-like protein</text>
<text x="193.9" y="430.14" font-size="9.8" fill="#222">24</text>
<text x="211.70" y="430.14" font-size="9.8" fill="#222" textLength="121.80" lengthAdjust="spacing">PGSC0003DMG400026748</text>
<text x="341.2" y="430.14" font-size="9.8" fill="#222" textLength="218.80" lengthAdjust="spacing">LRR receptor-like serine/threonine-protein kinase</text>
<text x="193.9" y="441.48" font-size="9.8" fill="#222">25</text>
<text x="211.70" y="441.48" font-size="9.8" fill="#222" textLength="121.80" lengthAdjust="spacing">PGSC0003DMG400015515</text>
<text x="341.2" y="441.48" font-size="9.8" fill="#222" textLength="110.90" lengthAdjust="spacing">protein RTE1-HOMOLOG</text>
<text x="193.9" y="452.82" font-size="9.8" fill="#222">26</text>
<text x="211.70" y="452.82" font-size="9.8" fill="#222" textLength="121.80" lengthAdjust="spacing">PGSC0003DMG400030830</text>
<text x="341.2" y="452.82" font-size="9.8" fill="#222" textLength="190.90" lengthAdjust="spacing">serine/threonine-protein kinase SAPK2-like</text>
<text x="193.9" y="464.16" font-size="9.8" fill="#222">27</text>
<text x="211.70" y="464.16" font-size="9.8" fill="#222" textLength="121.80" lengthAdjust="spacing">PGSC0003DMG401015976</text>
<text x="341.2" y="464.16" font-size="9.8" fill="#222" textLength="218.80" lengthAdjust="spacing">LRR receptor-like serine/threonine-protein kinase</text>
<text x="193.9" y="475.50" font-size="9.8" fill="#222">28</text>
<text x="211.70" y="475.50" font-size="9.8" fill="#222" textLength="121.80" lengthAdjust="spacing">PGSC0003DMG400013402</text>
<text x="341.2" y="475.50" font-size="9.8" fill="#222" textLength="207.40" lengthAdjust="spacing">ethylene-responsive transcription factor 1B-like</text>
<text x="193.9" y="486.84" font-size="9.8" fill="#222">29</text>
<text x="211.70" y="486.84" font-size="9.8" fill="#222" textLength="121.80" lengthAdjust="spacing">PGSC0003DMG400005825</text>
<text x="341.2" y="486.84" font-size="9.8" fill="#222" textLength="200.60" lengthAdjust="spacing">1-aminocyclopropane-1-carboxylate synthase</text>
<text x="193.9" y="498.18" font-size="9.8" fill="#222">30</text>
<text x="211.70" y="498.18" font-size="9.8" fill="#222" textLength="121.80" lengthAdjust="spacing">PGSC0003DMG400005540</text>
<text x="341.2" y="498.18" font-size="9.8" fill="#222" textLength="84.30" lengthAdjust="spacing">calmodulin-2/4-like</text>
<text x="193.9" y="509.52" font-size="9.8" fill="#222">31</text>
<text x="211.70" y="509.52" font-size="9.8" fill="#222" textLength="121.80" lengthAdjust="spacing">PGSC0003DMG400026749</text>
<text x="341.2" y="509.52" font-size="9.8" fill="#222" textLength="219.00" lengthAdjust="spacing">LRR receptor-like serine/threonine-protein kinase</text>
<text x="193.9" y="520.86" font-size="9.8" fill="#222">32</text>
<text x="211.70" y="520.86" font-size="9.8" fill="#222" textLength="121.80" lengthAdjust="spacing">PGSC0003DMG400029941</text>
<text x="341.2" y="520.86" font-size="9.8" fill="#222" textLength="70.90" lengthAdjust="spacing">green ripe-like 1</text>
<text x="193.9" y="532.20" font-size="9.8" fill="#222">33</text>
<text x="211.70" y="532.20" font-size="9.8" fill="#222" textLength="121.80" lengthAdjust="spacing">PGSC0003DMG400007253</text>
<text x="341.2" y="532.20" font-size="9.8" fill="#222" textLength="218.80" lengthAdjust="spacing">LRR receptor-like serine/threonine-protein kinase</text>
<text x="193.9" y="543.54" font-size="9.8" fill="#222">34</text>
<text x="211.70" y="543.54" font-size="9.8" fill="#222" textLength="121.80" lengthAdjust="spacing">PGSC0003DMG400012203</text>
<text x="341.2" y="543.54" font-size="9.8" fill="#222" textLength="237.90" lengthAdjust="spacing">mitogen-activated protein kinase kinase kinase YODA</text>
<text x="193.9" y="554.88" font-size="9.8" fill="#222">35</text>
<text x="211.70" y="554.88" font-size="9.8" fill="#222" textLength="121.80" lengthAdjust="spacing">PGSC0003DMG400002028</text>
<text x="341.2" y="554.88" font-size="9.8" fill="#222" textLength="187.50" lengthAdjust="spacing">pathogenesis-related protein 1b precursor</text>
<text x="193.9" y="566.22" font-size="9.8" fill="#222">36</text>
<text x="211.70" y="566.22" font-size="9.8" fill="#222" textLength="121.80" lengthAdjust="spacing">PGSC0003DMG400002027</text>
<text x="341.2" y="566.22" font-size="9.8" fill="#222" textLength="187.50" lengthAdjust="spacing">pathogenesis-related protein 1b precursor</text>
<text x="193.9" y="577.56" font-size="9.8" fill="#222">37</text>
<text x="211.70" y="577.56" font-size="9.8" fill="#222" textLength="121.80" lengthAdjust="spacing">PGSC0003DMG400002029</text>
<text x="341.2" y="577.56" font-size="9.8" fill="#222" textLength="187.50" lengthAdjust="spacing">pathogenesis-related protein 1b precursor</text>
<text x="193.9" y="588.90" font-size="9.8" fill="#222">38</text>
<text x="211.70" y="588.90" font-size="9.8" fill="#222" textLength="121.80" lengthAdjust="spacing">PGSC0003DMG400012514</text>
<text x="341.2" y="588.90" font-size="9.8" fill="#222" textLength="244.70" lengthAdjust="spacing">LRR receptor-like serine/threonine-protein kinase FLS2</text>
<text x="193.9" y="600.24" font-size="9.8" fill="#222">39</text>
<text x="211.70" y="600.24" font-size="9.8" fill="#222" textLength="121.80" lengthAdjust="spacing">PGSC0003DMG400018992</text>
<text x="341.2" y="600.24" font-size="9.8" fill="#222" textLength="255.60" lengthAdjust="spacing">mitogen-activated protein kinase kinase kinase NPK1-like</text>
<text x="193.9" y="611.58" font-size="9.8" fill="#222">40</text>
<text x="211.70" y="611.58" font-size="9.8" fill="#222" textLength="121.80" lengthAdjust="spacing">PGSC0003DMG400017514</text>
<text x="341.2" y="611.58" font-size="9.8" fill="#222" textLength="148.80" lengthAdjust="spacing">abscisic acid 8'-hydroxylase 3-like</text>
<text x="193.9" y="622.92" font-size="9.8" fill="#222">41</text>
<text x="211.70" y="622.92" font-size="9.8" fill="#222" textLength="121.80" lengthAdjust="spacing">PGSC0003DMG401015009</text>
<text x="341.2" y="622.92" font-size="9.8" fill="#222" textLength="142.40" lengthAdjust="spacing">inactive receptor kinase RLK902</text>
<text x="193.9" y="634.26" font-size="9.8" fill="#222">42</text>
<text x="211.70" y="634.26" font-size="9.8" fill="#222" textLength="121.80" lengthAdjust="spacing">PGSC0003DMG400016156</text>
<text x="341.2" y="634.26" font-size="9.8" fill="#222" textLength="190.60" lengthAdjust="spacing">serine/threonine-protein kinase SAPK1-like</text>
<text x="193.9" y="645.60" font-size="9.8" fill="#222">43</text>
<text x="211.70" y="645.60" font-size="9.8" fill="#222" textLength="121.80" lengthAdjust="spacing">PGSC0003DMG400023586</text>
<text x="341.2" y="645.60" font-size="9.8" fill="#222" textLength="218.80" lengthAdjust="spacing">LRR receptor-like serine/threonine-protein kinase</text>
<text x="193.9" y="656.94" font-size="9.8" fill="#222">44</text>
<text x="211.70" y="656.94" font-size="9.8" fill="#222" textLength="121.80" lengthAdjust="spacing">PGSC0003DMG400023441</text>
<text x="341.2" y="656.94" font-size="9.8" fill="#222" textLength="190.60" lengthAdjust="spacing">serine/threonine-protein kinase SAPK7-like</text>
<text x="193.9" y="668.28" font-size="9.8" fill="#222">45</text>
<text x="211.70" y="668.28" font-size="9.8" fill="#222" textLength="121.80" lengthAdjust="spacing">PGSC0003DMG400018811</text>
<text x="341.2" y="668.28" font-size="9.8" fill="#222" textLength="218.60" lengthAdjust="spacing">LRR receptor-like serine/threonine-protein kinase</text>
<text x="193.9" y="679.62" font-size="9.8" fill="#222">46</text>
<text x="211.70" y="679.62" font-size="9.8" fill="#222" textLength="121.80" lengthAdjust="spacing">PGSC0003DMG400031028</text>
<text x="341.2" y="679.62" font-size="9.8" fill="#222" textLength="246.10" lengthAdjust="spacing">LRR receptor-like serine/threonine-protein kinase ERL1</text>
<text x="193.9" y="690.96" font-size="9.8" fill="#222">47</text>
<text x="211.70" y="690.96" font-size="9.8" fill="#222" textLength="121.80" lengthAdjust="spacing">PGSC0003DMG400033696</text>
<text x="341.2" y="690.96" font-size="9.8" fill="#222" textLength="184.10" lengthAdjust="spacing">mitogen-activated protein kinase kinase 9</text>
<text x="193.9" y="702.30" font-size="9.8" fill="#222">48</text>
<text x="211.70" y="702.30" font-size="9.8" fill="#222" textLength="121.80" lengthAdjust="spacing">PGSC0003DMG400029408</text>
<text x="341.2" y="702.30" font-size="9.8" fill="#222" textLength="136.60" lengthAdjust="spacing">catalase isozyme 1-like protein</text>
<text x="193.9" y="713.64" font-size="9.8" fill="#222">49</text>
<text x="211.70" y="713.64" font-size="9.8" fill="#222" textLength="121.80" lengthAdjust="spacing">PGSC0003DMG402026149</text>
<text x="341.2" y="713.64" font-size="9.8" fill="#222" textLength="235.00" lengthAdjust="spacing">mitogen-activated protein kinase kinase kinase 1-like</text>
<path d="M120.10 32.40L171.00 32.40 M120.10 32.40L120.10 107.50 M171.00 32.40L171.00 87.30 M114.47 107.50L148.40 107.50 M114.47 107.50L114.47 113.40 M148.40 107.50L148.40 113.40 M91.86 113.40L137.09 113.40 M103.00 113.00L114.47 113.00 M165.35 87.30L182.30 87.30 M165.35 87.30L165.35 109.90 M182.30 87.30L182.30 113.40 M159.70 109.90L171.00 109.90 M159.70 109.90L159.70 113.40 M171.00 109.90L171.00 113.40 M0.20 341.84L0.20 619.67 M0.20 341.84L59.50 341.84 M0.20 619.67L55.30 619.67 M59.50 319.16L59.50 500.60 M59.50 319.16L68.50 319.16 M59.50 500.60L62.20 500.60 M68.50 166.07L68.50 324.83 M68.50 166.07L81.00 166.07 M68.50 324.83L72.30 324.83 M72.30 194.42L72.30 347.51 M72.30 194.42L75.30 194.42 M72.30 347.51L71.50 347.51 M75.30 183.08L75.30 205.76 M75.30 183.08L79.10 183.08 M75.30 205.76L80.40 205.76 M79.10 177.41L79.10 188.75 M79.10 177.41L81.00 177.41 M79.10 188.75L81.00 188.75 M80.40 200.09L80.40 211.43 M80.40 200.09L81.00 200.09 M80.40 211.43L81.00 211.43 M71.50 341.84L71.50 472.25 M71.50 341.84L75.40 341.84 M71.50 472.25L81.00 472.25 M75.40 285.14L75.40 409.88 M75.40 285.14L77.40 285.14 M75.40 409.88L76.00 409.88 M77.40 268.13L77.40 336.17 M77.40 268.13L80.00 268.13 M77.40 336.17L78.30 336.17 M80.00 239.78L80.00 290.81 M80.00 239.78L80.40 239.78 M80.00 290.81L80.40 290.81 M80.40 228.44L80.40 251.12 M80.40 228.44L80.70 228.44 M80.40 251.12L80.60 251.12 M80.70 222.77L80.70 234.11 M80.70 222.77L81.00 222.77 M80.70 234.11L81.00 234.11 M80.60 245.45L80.60 256.79 M80.60 245.45L81.00 245.45 M80.60 256.79L81.00 256.79 M80.40 285.14L80.40 313.49 M80.40 285.14L80.60 285.14 M80.40 313.49L81.00 313.49 M80.60 273.80L80.60 296.48 M80.60 273.80L80.70 273.80 M80.60 296.48L80.80 296.48 M80.70 268.13L80.70 279.47 M80.70 268.13L81.00 268.13 M80.70 279.47L81.00 279.47 M80.80 290.81L80.80 302.15 M80.80 290.81L81.00 290.81 M80.80 302.15L81.00 302.15 M78.30 324.83L78.30 341.84 M78.30 324.83L81.00 324.83 M78.30 341.84L80.30 341.84 M80.30 336.17L80.30 347.51 M80.30 336.17L81.00 336.17 M80.30 347.51L81.00 347.51 M76.00 358.85L76.00 415.55 M76.00 358.85L81.00 358.85 M76.00 415.55L76.40 415.55 M76.40 375.86L76.40 426.89 M76.40 375.86L79.20 375.86 M76.40 426.89L78.60 426.89 M79.20 370.19L79.20 381.53 M79.20 370.19L81.00 370.19 M79.20 381.53L81.00 381.53 M78.60 392.87L78.60 432.56 M78.60 392.87L81.00 392.87 M78.60 432.56L79.20 432.56 M79.20 409.88L79.20 443.90 M79.20 409.88L79.60 409.88 M79.20 443.90L79.80 443.90 M79.60 404.21L79.60 415.55 M79.60 404.21L81.00 404.21 M79.60 415.55L81.00 415.55 M79.80 426.89L79.80 449.57 M79.80 426.89L81.00 426.89 M79.80 449.57L80.20 449.57 M80.20 438.23L80.20 455.24 M80.20 438.23L81.00 438.23 M80.20 455.24L80.50 455.24 M80.50 449.57L80.50 460.91 M80.50 449.57L81.00 449.57 M80.50 460.91L81.00 460.91 M62.20 483.59L62.20 506.27 M62.20 483.59L81.00 483.59 M62.20 506.27L70.40 506.27 M70.40 500.60L70.40 517.61 M70.40 500.60L74.20 500.60 M70.40 517.61L81.00 517.61 M74.20 494.93L74.20 506.27 M74.20 494.93L81.00 494.93 M74.20 506.27L81.00 506.27 M55.30 614.00L55.30 710.39 M55.30 614.00L68.50 614.00 M55.30 710.39L81.00 710.39 M68.50 608.33L68.50 699.05 M68.50 608.33L69.20 608.33 M68.50 699.05L81.00 699.05 M69.20 579.98L69.20 665.03 M69.20 579.98L71.30 579.98 M69.20 665.03L74.70 665.03 M71.30 534.62L71.30 591.32 M71.30 534.62L75.20 534.62 M71.30 591.32L72.40 591.32 M75.20 528.95L75.20 540.29 M75.20 528.95L81.00 528.95 M75.20 540.29L81.00 540.29 M72.40 585.65L72.40 631.01 M72.40 585.65L75.20 585.65 M72.40 631.01L81.00 631.01 M75.20 568.64L75.20 608.33 M75.20 568.64L77.60 568.64 M75.20 608.33L76.20 608.33 M77.60 562.97L77.60 585.65 M77.60 562.97L80.50 562.97 M77.60 585.65L81.00 585.65 M80.50 557.30L80.50 574.31 M80.50 557.30L80.70 557.30 M80.50 574.31L81.00 574.31 M80.70 551.63L80.70 562.97 M80.70 551.63L81.00 551.63 M80.70 562.97L81.00 562.97 M76.20 596.99L76.20 614.00 M76.20 596.99L81.00 596.99 M76.20 614.00L79.00 614.00 M79.00 608.33L79.00 619.67 M79.00 608.33L81.00 608.33 M79.00 619.67L81.00 619.67 M74.70 642.35L74.70 670.70 M74.70 642.35L81.00 642.35 M74.70 670.70L75.70 670.70 M75.70 653.69L75.70 676.37 M75.70 653.69L81.00 653.69 M75.70 676.37L77.00 676.37 M77.00 670.70L77.00 687.71 M77.00 670.70L79.60 670.70 M77.00 687.71L81.00 687.71 M79.60 665.03L79.60 676.37 M79.60 665.03L81.00 665.03 M79.60 676.37L81.00 676.37" stroke="#555" stroke-width="1" fill="none" stroke-linecap="square"/>
</svg></body></html>
